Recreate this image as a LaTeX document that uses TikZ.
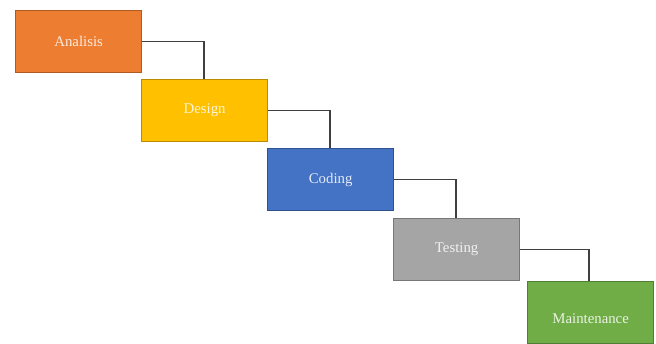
\documentclass[tikz,border=0pt]{standalone}
\usepackage{fontspec}
\setmainfont{Liberation Serif}
\definecolor{orangeF}{HTML}{ED7D31}\definecolor{orangeB}{HTML}{AE5A21}
\definecolor{goldF}{HTML}{FFC000}\definecolor{goldB}{HTML}{BC8C00}
\definecolor{blueF}{HTML}{4472C4}\definecolor{blueB}{HTML}{2F528F}
\definecolor{grayF}{HTML}{A5A5A5}\definecolor{grayB}{HTML}{787878}
\definecolor{greenF}{HTML}{70AD47}\definecolor{greenB}{HTML}{507E32}
\definecolor{linkC}{HTML}{404040}
\tikzset{
  phase/.style={draw=#1B, fill=#1F, line width=1.3pt, minimum width=126pt,
    minimum height=62pt, inner sep=0pt, anchor=north west},
  caption/.style={text=white!85!#1F, font=\fontsize{14.8}{16}\selectfont},
  link/.style={draw=linkC, line width=1.3pt}
}
\begin{document}
\begin{tikzpicture}[x=1pt,y=-1pt]
  \useasboundingbox (0,0) rectangle (656,344);
  % phase boxes
  \node[phase=orange] (ana) at (15,10) {};
  \node[phase=gold]   (des) at (141,79) {};
  \node[phase=blue]   (cod) at (267,148) {};
  \node[phase=gray]   (tes) at (393,218) {};
  \node[phase=green]  (mai) at (527,281) {};
  % captions
  \node[caption=orange] (anaT) at (ana.center) {Analisis};
  \node[caption=gold]   (desT) at (des.center) {Design};
  \node[caption=blue]   (codT) at (cod.center) {Coding};
  \node[caption=gray]   (tesT) at (tes.center) {Testing};
  \node[caption=green]  (maiT) at ([yshift=-6pt]mai.center) {Maintenance};
  % elbow connectors
  \draw[link] (ana.east) -| (des.north -| 204,0);
  \draw[link] (des.east) -| (cod.north -| 330,0);
  \draw[link] (cod.east) -| (tes.north -| 456,0);
  \draw[link] (tes.east) -| (mai.north -| 589,0);
\end{tikzpicture}
\end{document}
